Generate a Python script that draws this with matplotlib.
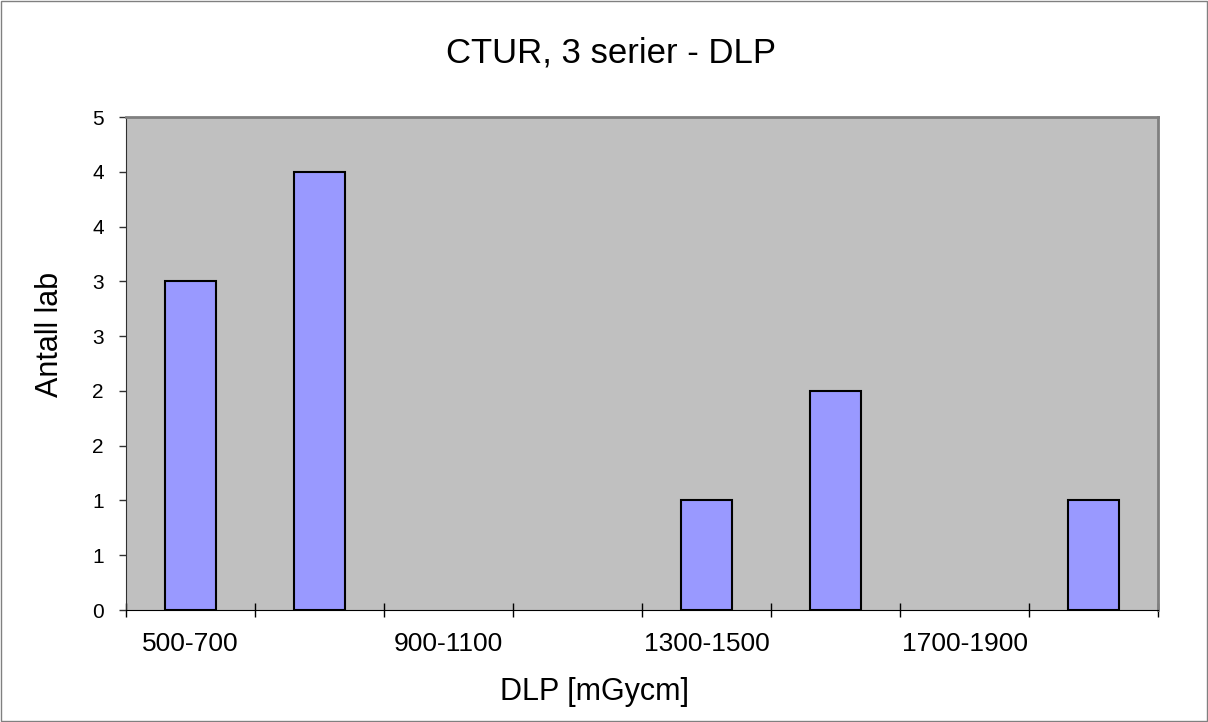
import numpy as np
import matplotlib
matplotlib.use("Agg")
import matplotlib.pyplot as plt
from matplotlib.ticker import FixedLocator, FuncFormatter
from matplotlib.patches import Rectangle

# Data
categories = ["500-700", "700-900", "900-1100", "1100-1300",
              "1300-1500", "1500-1700", "1700-1900", "1900-2100"]
counts = [3, 4, 0, 0, 1, 2, 0, 1]
y_ticks = [0, 0.5, 1, 1.5, 2, 2.5, 3, 3.5, 4, 4.5]

plt.rcParams['font.family'] = ['Liberation Sans', 'DejaVu Sans']

fig = plt.figure(figsize=(12.08, 7.22), dpi=100)
ax = fig.add_axes([126 / 1208, 1 - 610 / 722, (1158 - 126) / 1208, (610 - 117) / 722])
ax.set_facecolor("#C0C0C0")

x = np.arange(len(categories))
# empty bins get no outline (Excel draws nothing for zero)
edge_w = [1.5 if c > 0 else 0 for c in counts]
ax.bar(x, counts, width=0.4, color="#9999FF", edgecolor="black", linewidth=edge_w, zorder=3)

ax.set_xlim(-0.5, len(categories) - 0.5)
ax.set_ylim(0, 4.5)

# x: tick marks on category boundaries, labels on every other category
ax.xaxis.set_major_locator(FixedLocator(np.arange(len(categories) + 1) - 0.5))
ax.xaxis.set_major_formatter(FuncFormatter(lambda v, p: ""))
ax.xaxis.set_minor_locator(FixedLocator(x))
ax.set_xticklabels([c if i % 2 == 0 else "" for i, c in enumerate(categories)], minor=True)
ax.tick_params(axis="x", which="major", direction="inout", length=10, width=1, color="black")
ax.tick_params(axis="x", which="minor", length=0, pad=16, labelsize=19)

# y: half steps, labels rounded to whole numbers like the original
ax.yaxis.set_major_locator(FixedLocator(y_ticks))
ax.yaxis.set_major_formatter(FuncFormatter(lambda v, p: str(int(np.floor(v + 0.5)))))
ax.tick_params(axis="y", direction="out", length=5, width=1, color="#303030", pad=11, labelsize=15)

for side in ["top", "right"]:
    ax.spines[side].set_color("#808080")
    ax.spines[side].set_linewidth(2)
ax.spines["left"].set_color("#303030")
ax.spines["bottom"].set_color("black")

fig.text(611.5 / 1208, 1 - 62.7 / 722, "CTUR, 3 serier - DLP", ha="center", va="baseline", fontsize=25)
fig.text(594 / 1208, 1 - 700 / 722, "DLP [mGycm]", ha="center", va="baseline", fontsize=22)
fig.text(50 / 1208, 1 - 334 / 722, "Antall lab", ha="center", va="center", rotation=90, fontsize=22)

# thin grey frame around the whole chart
fig.patches.append(Rectangle((0.0005, 0.0008), 0.999, 0.9985, transform=fig.transFigure,
                             fill=False, edgecolor="#808080", linewidth=1))

fig.savefig("out.png", dpi=100)
